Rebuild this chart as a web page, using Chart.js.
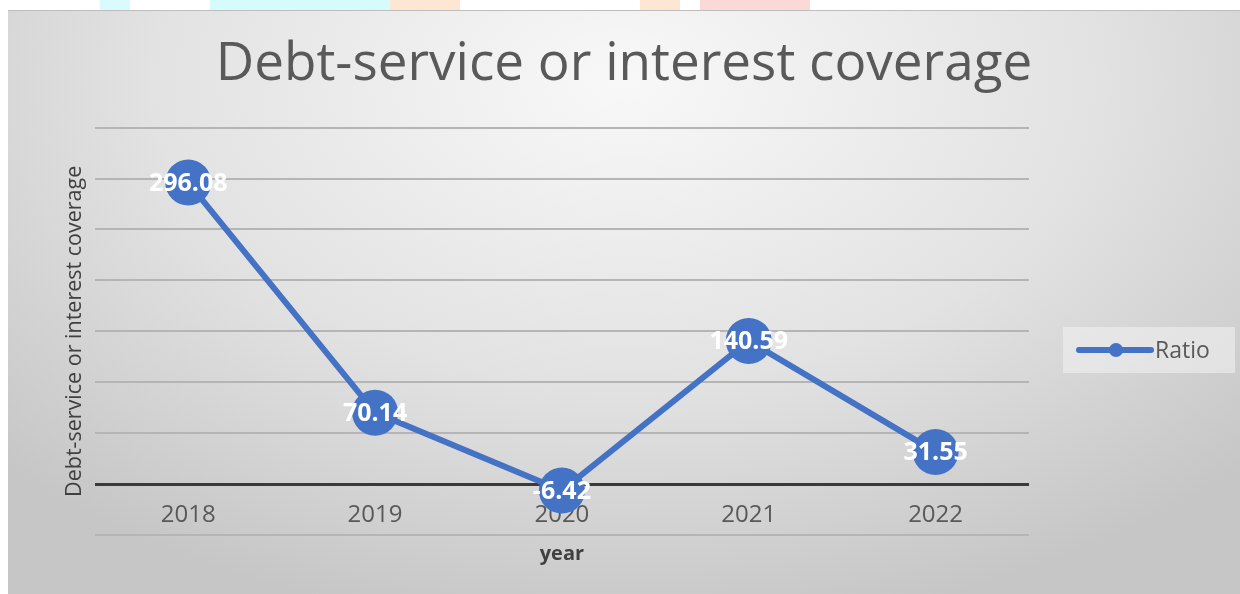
<!DOCTYPE html>
<html>
<head>
<meta charset="utf-8">
<script src="https://cdn.jsdelivr.net/npm/chart.js@4"></script>
<style>
  html, body { margin: 0; padding: 0; background: #fff; }
  body { width: 1240px; height: 594px; position: relative; overflow: hidden; }
  .deco { position: absolute; top: 0; height: 10px; }
  #frame {
    position: absolute; left: 8px; top: 10px; width: 1232px; height: 584px;
    border-top: 1px solid #bdbdbd; box-sizing: border-box;
    background: radial-gradient(ellipse 70% 95% at 50% 12%, #f8f8f8 0%, #e2e2e2 55%, #c6c6c6 100%);
  }
</style>
</head>
<body>
<div class="deco" style="left:100px;width:30px;background:#d9fbfb"></div>
<div class="deco" style="left:210px;width:190px;background:#d6fbfb"></div>
<div class="deco" style="left:390px;width:70px;background:#fde6d2"></div>
<div class="deco" style="left:640px;width:40px;background:#fde6d2"></div>
<div class="deco" style="left:700px;width:110px;background:#fbd9d6"></div>
<div id="frame"><canvas id="graph" width="1232" height="584"></canvas></div>
<script>
  const years = ['2018', '2019', '2020', '2021', '2022'];
  const ratio = [296.08, 70.14, -6.42, 140.59, 31.55];
  const yMin = -50;
  const yMax = 350;
  const yStep = 50;

  const blue = '#4472C4';
  const font = "'Open Sans', 'Liberation Sans', sans-serif";

  // white value labels on top of the markers
  const valueLabels = {
    id: 'valueLabels',
    afterDatasetsDraw(chart) {
      const ctx = chart.ctx;
      const meta = chart.getDatasetMeta(0);
      ctx.save();
      ctx.fillStyle = '#ffffff';
      ctx.font = 'bold 25px ' + font;
      ctx.textAlign = 'center';
      ctx.textBaseline = 'middle';
      meta.data.forEach((pt, i) => {
        ctx.fillText(String(chart.data.datasets[0].data[i]), pt.x, pt.y + 1);
      });
      ctx.restore();
    }
  };

  // legend box on the right: line with a dot, then the series name
  const sideLegend = {
    id: 'sideLegend',
    afterDraw(chart) {
      const ctx = chart.ctx;
      const ds = chart.data.datasets[0];
      const x0 = chart.chartArea.right + 34;
      const yc = 339;
      ctx.save();
      ctx.fillStyle = 'rgba(240,240,240,0.6)';
      ctx.fillRect(x0, yc - 23, 172, 46);
      ctx.strokeStyle = ds.borderColor;
      ctx.lineWidth = 6;
      ctx.lineCap = 'round';
      ctx.beginPath();
      ctx.moveTo(x0 + 16, yc);
      ctx.lineTo(x0 + 88, yc);
      ctx.stroke();
      ctx.fillStyle = ds.backgroundColor;
      ctx.beginPath();
      ctx.arc(x0 + 53, yc, 7, 0, Math.PI * 2);
      ctx.fill();
      ctx.fillStyle = '#595959';
      ctx.font = '23px ' + font;
      ctx.textAlign = 'left';
      ctx.textBaseline = 'middle';
      ctx.fillText(ds.label, x0 + 92, yc + 1);
      ctx.restore();
    }
  };

  const data = {
    labels: years,
    datasets: [
      {
        label: 'Ratio',
        data: ratio,
        borderColor: blue,
        backgroundColor: blue,
        borderWidth: 6,
        tension: 0,
        pointStyle: 'circle',
        pointRadius: 23,
        pointHoverRadius: 23,
        pointBorderWidth: 0,
        xAxisID: 'x',
        yAxisID: 'y'
      }
    ]
  };

  const config = {
    type: 'line',
    data: data,
    options: {
      responsive: false,
      animation: false,
      layout: { padding: 0 },
      plugins: {
        title: {
          display: true,
          text: 'Debt-service or interest coverage',
          color: '#595959',
          font: { family: font, size: 53, weight: 'normal' },
          padding: { top: 22, bottom: 31 }
        },
        legend: { display: false },
        tooltip: { enabled: false }
      },
      scales: {
        x: {
          type: 'category',
          position: 'bottom',
          offset: true,
          grid: { display: false, drawTicks: false },
          border: { display: false },
          ticks: { display: false },
          title: {
            display: true,
            text: 'year',
            color: '#404040',
            font: { family: font, size: 20, weight: 'bold' },
            padding: { top: 7, bottom: 29 }
          }
        },
        x2: {
          type: 'category',
          position: { y: 0 },
          offset: true,
          grid: { display: false, drawTicks: false },
          border: { display: false },
          ticks: {
            color: '#595959',
            font: { family: font, size: 24 },
            padding: 17
          }
        },
        y: {
          min: yMin,
          max: yMax,
          ticks: { display: false, stepSize: yStep },
          border: { display: false },
          grid: {
            drawTicks: false,
            color: (c) => c.tick && c.tick.value === 0 ? '#3a3a3a' : '#b5b5b5',
            lineWidth: (c) => c.tick && c.tick.value === 0 ? 3 : 2
          },
          title: {
            display: true,
            text: 'Debt-service or interest coverage',
            color: '#404040',
            font: { family: font, size: 21.5 },
            padding: { top: 54, bottom: 7 }
          }
        },
        // empty right-hand axis: keeps room for the legend box
        yRight: {
          position: 'right',
          min: yMin,
          max: yMax,
          ticks: { display: false },
          border: { display: false },
          grid: { display: false, drawTicks: false },
          title: { display: true, text: '', font: { size: 20 }, padding: { top: 0, bottom: 187 } }
        }
      }
    },
    plugins: [valueLabels, sideLegend]
  };

  const ctx = document.getElementById('graph').getContext('2d');
  new Chart(ctx, config);
</script>
</body>
</html>
